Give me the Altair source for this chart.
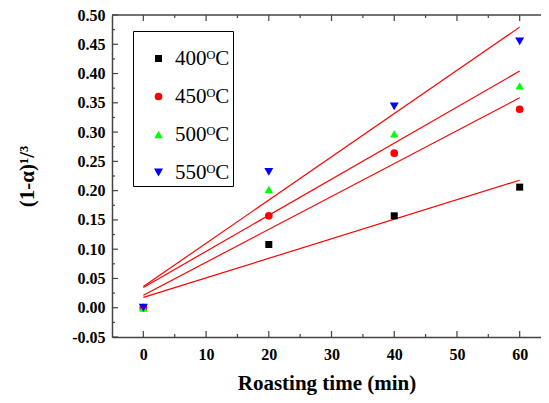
import altair as alt
import pandas as pd

times = [0, 20, 40, 60]
series = ["400ᴼC", "450ᴼC", "500ᴼC", "550ᴼC"]
y400 = [0.0, 0.108, 0.157, 0.206]
y450 = [0.0, 0.157, 0.264, 0.339]
y500 = [0.0, 0.202, 0.297, 0.379]
y550 = [0.0, 0.232, 0.344, 0.455]
colors = ["#000000", "#ff0000", "#00ff00", "#0000ff"]
shapes = ["square", "circle", "triangle-up", "triangle-down"]
sizes = [49, 81, 90, 90]

x_major = [0, 10, 20, 30, 40, 50, 60]
x_minor = [5, 15, 25, 35, 45, 55]
y_major = [-0.05, 0.0, 0.05, 0.10, 0.15, 0.20, 0.25, 0.30, 0.35, 0.40, 0.45, 0.50]
y_minor = [-0.025, 0.025, 0.075, 0.125, 0.175, 0.225, 0.275, 0.325, 0.375, 0.425, 0.475]

rows = []
for s, ys in zip(series, [y400, y450, y500, y550]):
    for t, v in zip(times, ys):
        rows.append({"series": s, "t": t, "y": v})
df = pd.DataFrame(rows)

W, H = 429, 322
FONT = "Liberation Serif, Times New Roman, serif"
AX = "#444444"

xscale = alt.Scale(domain=[-5, 63.4], nice=False, zero=False)
yscale = alt.Scale(domain=[-0.05, 0.50], nice=False, zero=False)

common = dict(labelOverlap=False, ticks=False, grid=False, domainColor=AX, domainWidth=1.5,
              labelFont=FONT, labelFontWeight="bold", labelFontSize=16, labelColor="#000",
              titleFont=FONT, titleFontWeight="bold", titleFontSize=21, titleColor="#000")

xaxis = alt.Axis(title="Roasting time (min)", values=x_major, format="d",
                 labelPadding=9, titlePadding=10, **common)
yaxis = alt.Axis(title="(1-α)¹/³", values=y_major,
                 labelExpr="replace(format(datum.value, '.2f'), '\u2212', '-')",
                 labelPadding=7, titlePadding=34, **common)

base = alt.Chart(df)

fits = base.transform_regression("t", "y", groupby=["series"], extent=[0, 60]).mark_line(
    color="#ff0000", strokeWidth=1.2, clip=True
).encode(
    x=alt.X("t:Q", scale=xscale, axis=xaxis),
    y=alt.Y("y:Q", scale=yscale, axis=yaxis),
    detail="series:N",
)

legend = alt.Legend(title=" ", titleFontSize=10, titlePadding=4, orient="none",
                    legendX=21, legendY=16, strokeColor="#000", padding=3,
                    labelFont=FONT, labelFontSize=21, labelColor="#000",
                    rowPadding=16, symbolOffset=12, labelOffset=6,
                    symbolStrokeWidth=0)

points = base.mark_point(filled=True, opacity=1, strokeWidth=0).encode(
    x=alt.X("t:Q", scale=xscale, axis=xaxis),
    y=alt.Y("y:Q", scale=yscale, axis=yaxis),
    color=alt.Color("series:N", scale=alt.Scale(domain=series, range=colors), legend=legend),
    shape=alt.Shape("series:N", scale=alt.Scale(domain=series, range=shapes), legend=legend),
    size=alt.Size("series:N", scale=alt.Scale(domain=series, range=sizes), legend=legend),
)

xmaj = alt.Chart(pd.DataFrame({"v": x_major}))
xmin = alt.Chart(pd.DataFrame({"v": x_minor}))
ymaj = alt.Chart(pd.DataFrame({"v": y_major}))
ymin = alt.Chart(pd.DataFrame({"v": y_minor}))

def xt(c, y0, y1):
    return c.mark_rule(color=AX, strokeWidth=1.2).encode(
        x=alt.X("v:Q", scale=xscale, axis=xaxis), y=alt.value(y0), y2=alt.value(y1))

def yt(c, x0, x1):
    return c.mark_rule(color=AX, strokeWidth=1.2).encode(
        y=alt.Y("v:Q", scale=yscale, axis=yaxis), x=alt.value(x0), x2=alt.value(x1))

top_line = alt.Chart(pd.DataFrame({"v": [0.50]})).mark_rule(color=AX, strokeWidth=1.5).encode(
    y=alt.Y("v:Q", scale=yscale, axis=yaxis), x=alt.value(0), x2=alt.value(W))

ticks = [
    xt(xmaj, H, H - 6), xt(xmin, H, H - 3),
    xt(xmaj, 0, 6), xt(xmin, 0, 3),
    yt(ymaj, 0, 6), yt(ymin, 0, 3),
]

chart = alt.layer(fits, *ticks, top_line, points).properties(
    width=W, height=H,
    background="white",
    autosize=alt.AutoSizeParams(type="none"),
    padding={"left": 104, "top": 7, "right": 0, "bottom": 58},
).configure_view(stroke=None).configure_axis(**common)

chart.save("out.html", embed_options={"renderer": "svg", "actions": False})
